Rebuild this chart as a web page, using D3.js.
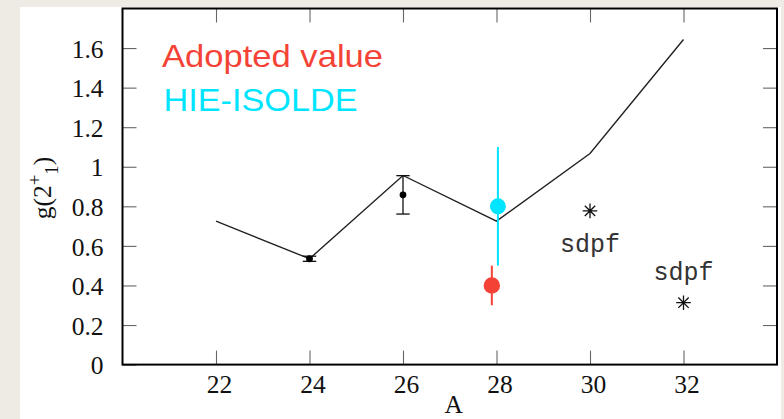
<!DOCTYPE html>
<html>
<head>
<meta charset="utf-8">
<script src="https://d3js.org/d3.v7.min.js"></script>
<style>
  body { margin: 0; background: #eeebe4; }
  svg { display: block; }
  .tick-label { font-family: "Liberation Serif", "Times New Roman", serif; font-size: 25.5px; fill: #111; }
  .sdpf { font-family: "Liberation Mono", "Courier New", monospace; font-size: 25px; fill: #333; }
  .legend { font-family: "Liberation Sans", Arial, sans-serif; font-size: 32px; }
</style>
</head>
<body>
<div class="chart"></div>
<script>
// theory curve (black line)
var theoryA = [22, 24, 26, 28, 30, 32];
var theoryG = [0.725, 0.535, 0.956, 0.725, 1.067, 1.643];

// measured points with error bars (black)
var expA = [24, 26];
var expG = [0.535, 0.858];
var expErr = [0.013, 0.097];

// adopted value (red)
var adoptedA = [27.9];
var adoptedG = [0.40];
var adoptedErr = [0.10];

// HIE-ISOLDE (cyan)
var hieA = [28.03];
var hieG = [0.80];
var hieErr = [0.30];

// sdpf shell model (stars)
var sdpfA = [30, 32];
var sdpfG = [0.777, 0.313];

var xTicks = [22, 24, 26, 28, 30, 32];
var yTicks = [0, 0.2, 0.4, 0.6, 0.8, 1, 1.2, 1.4, 1.6];

var svgWidth = 784;
var svgHeight = 419;
var margin = {top: 8.5, right: 7, bottom: 54.4, left: 122.5};
var width = svgWidth - margin.left - margin.right;
var height = svgHeight - margin.top - margin.bottom;

var RED = "#f44336";
var CYAN = "#00e5ff";

var root = d3.select(".chart")
    .append("svg")
    .attr("width", svgWidth)
    .attr("height", svgHeight);

// page background: white sheet on beige
root.append("rect").attr("width", svgWidth).attr("height", svgHeight).attr("fill", "#eeebe4");
root.append("rect").attr("x", 20).attr("y", 7).attr("width", 761).attr("height", svgHeight - 7).attr("fill", "#fff");

var chart = root.append("g")
    .attr("transform", "translate(" + margin.left + "," + margin.top + ")");

var x = d3.scaleLinear().domain([20, 34]).range([0, width]);
var y = d3.scaleLinear().domain([0, 1.8]).range([height, 0]);

function fmt(d) { return String(+d.toFixed(1)); }

// axes: ticks inward on all four sides
var tickLen = 14;
var bottomAxis = d3.axisBottom(x).tickValues(xTicks).tickSize(-tickLen).tickPadding(10).tickFormat(fmt);
var topAxis = d3.axisTop(x).tickValues(xTicks).tickSize(-tickLen).tickFormat("");
var leftAxis = d3.axisLeft(y).tickValues(yTicks).tickSize(-tickLen).tickPadding(19).tickFormat(fmt);
var rightAxis = d3.axisRight(y).tickValues(yTicks.slice(1)).tickSize(-tickLen).tickFormat("");

function styleAxis(g) {
    g.select(".domain").remove();
    g.selectAll(".tick line").attr("stroke", "#666").attr("stroke-width", 1.1);
    g.selectAll(".tick text").attr("class", "tick-label").attr("fill", "#111");
}

chart.append("g").attr("transform", "translate(0," + height + ")").call(bottomAxis).call(styleAxis)
    .selectAll(".tick text").attr("dx", 3).attr("dy", "0.72em");
chart.append("g").call(topAxis).call(styleAxis);
chart.append("g").call(leftAxis).call(styleAxis)
    .selectAll(".tick text").attr("dy", "0.36em");
chart.append("g").attr("transform", "translate(" + width + ",0)").call(rightAxis).call(styleAxis);

// frame
chart.append("rect")
    .attr("width", width).attr("height", height)
    .attr("fill", "none").attr("stroke", "#000").attr("stroke-width", 2);

// axis titles
root.append("text")
    .attr("class", "tick-label")
    .attr("x", margin.left + width / 2 + 4)
    .attr("y", 413)
    .attr("text-anchor", "middle")
    .text("A");

var yl = root.append("text")
    .attr("class", "tick-label")
    .attr("transform", "translate(51,188) rotate(-90)")
    .attr("text-anchor", "middle");
yl.append("tspan").text("g(2");
yl.append("tspan").attr("dy", -10).attr("font-size", 19).text("+");
yl.append("tspan").attr("dy", 17).attr("font-size", 19).text("1");
yl.append("tspan").attr("dy", -7).text(")");

// theory line
var theory = theoryA.map(function(a, i) { return {a: a, g: theoryG[i]}; });
var line = d3.line().x(function(d) { return x(d.a); }).y(function(d) { return y(d.g); });
chart.append("path")
    .datum(theory)
    .attr("d", line)
    .attr("fill", "none")
    .attr("stroke", "#222")
    .attr("stroke-width", 1.4);

// error bar helper
function errorBars(aArr, gArr, eArr, color, lw, cap) {
    var data = aArr.map(function(a, i) { return {a: a, g: gArr[i], e: eArr[i]}; });
    var g = chart.append("g").attr("stroke", color).attr("stroke-width", lw);
    g.selectAll(".bar").data(data).enter().append("line")
        .attr("x1", function(d) { return x(d.a); })
        .attr("x2", function(d) { return x(d.a); })
        .attr("y1", function(d) { return y(d.g - d.e); })
        .attr("y2", function(d) { return y(d.g + d.e); });
    if (cap > 0) {
        [-1, 1].forEach(function(s) {
            g.selectAll(".cap" + s).data(data).enter().append("line")
                .attr("x1", function(d) { return x(d.a) - cap; })
                .attr("x2", function(d) { return x(d.a) + cap; })
                .attr("y1", function(d) { return y(d.g + s * d.e); })
                .attr("y2", function(d) { return y(d.g + s * d.e); });
        });
    }
    return data;
}

var expData = errorBars(expA, expG, expErr, "#111", 1.3, 6.7);
chart.selectAll(".exp").data(expData).enter().append("circle")
    .attr("cx", function(d) { return x(d.a); })
    .attr("cy", function(d) { return y(d.g); })
    .attr("r", 3.4)
    .attr("fill", "#000");

var hieData = errorBars(hieA, hieG, hieErr, CYAN, 2, 0);
chart.selectAll(".hie").data(hieData).enter().append("circle")
    .attr("cx", function(d) { return x(d.a); })
    .attr("cy", function(d) { return y(d.g); })
    .attr("r", 8)
    .attr("fill", CYAN);

var adoptedData = errorBars(adoptedA, adoptedG, adoptedErr, RED, 2, 0);
chart.selectAll(".adopted").data(adoptedData).enter().append("circle")
    .attr("cx", function(d) { return x(d.a); })
    .attr("cy", function(d) { return y(d.g); })
    .attr("r", 8.2)
    .attr("fill", RED);

// sdpf stars
function star(p, q) {
    return "M0," + (-p) + "V" + p + "M" + (-p) + ",0H" + p +
        "M" + (-q) + "," + (-q) + "L" + q + "," + q +
        "M" + (-q) + "," + q + "L" + q + "," + (-q);
}
var sdpf = sdpfA.map(function(a, i) { return {a: a, g: sdpfG[i]}; });
chart.selectAll(".star").data(sdpf).enter().append("path")
    .attr("transform", function(d) { return "translate(" + x(d.a) + "," + y(d.g) + ")"; })
    .attr("d", star(7.3, 5.2))
    .attr("stroke", "#111")
    .attr("stroke-width", 1.3)
    .attr("fill", "none");

// labels: below the first star, above the second
var labelOffsets = [41, -23];
chart.selectAll(".sdpf").data(sdpf).enter().append("text")
    .attr("class", "sdpf")
    .attr("x", function(d) { return x(d.a); })
    .attr("y", function(d, i) { return y(d.g) + labelOffsets[i]; })
    .attr("text-anchor", "middle")
    .text("sdpf");

// legend
root.append("text").attr("class", "legend")
    .attr("x", 162).attr("y", 67.3)
    .attr("fill", RED)
    .attr("textLength", 221).attr("lengthAdjust", "spacingAndGlyphs")
    .text("Adopted value");
root.append("text").attr("class", "legend")
    .attr("x", 163.5).attr("y", 111)
    .attr("fill", CYAN)
    .attr("textLength", 194).attr("lengthAdjust", "spacingAndGlyphs")
    .text("HIE-ISOLDE");
</script>
</body>
</html>
